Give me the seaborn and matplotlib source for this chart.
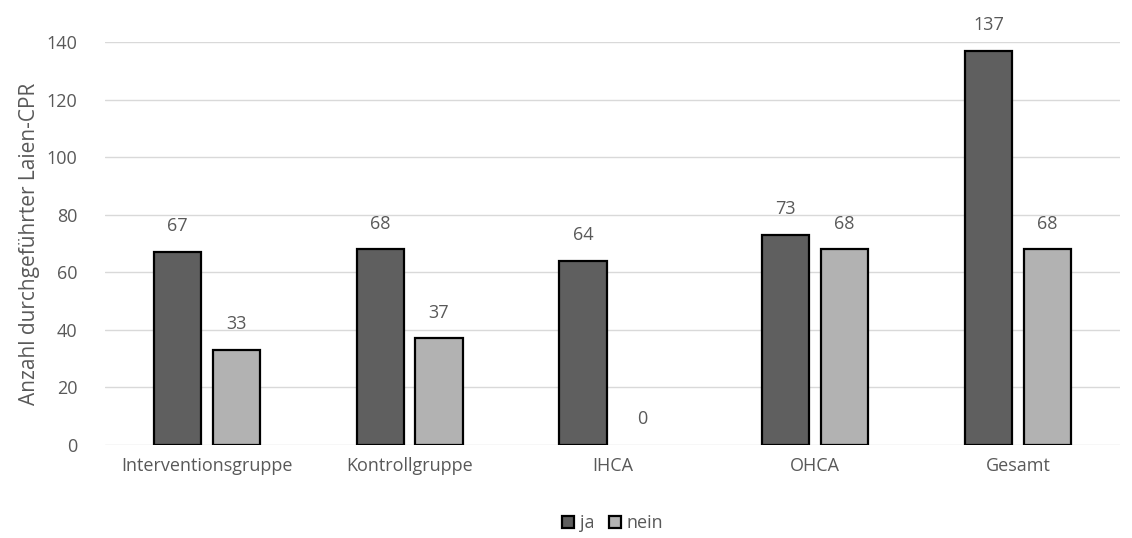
import matplotlib
matplotlib.use("Agg")
import matplotlib.pyplot as plt
import pandas as pd
import seaborn as sns

categories = ["Interventionsgruppe", "Kontrollgruppe", "IHCA", "OHCA", "Gesamt"]
ja_values = [67, 68, 64, 73, 137]
nein_values = [33, 37, 0, 68, 68]
series_names = ["ja", "nein"]
colors = ["#5f5f5f", "#b2b2b2"]

df = pd.DataFrame({
    "Gruppe": categories * 2,
    "Anzahl": ja_values + nein_values,
    "Serie": [series_names[0]] * len(categories) + [series_names[1]] * len(categories),
})

sns.set_theme(style="white")
plt.rcParams["font.family"] = ["Open Sans", "DejaVu Sans"]
text_color = "#595959"

fig = plt.figure(figsize=(11.32, 5.38), dpi=100)
ax = fig.add_axes([0.093, 0.173, 0.896, 0.749])

sns.barplot(data=df, x="Gruppe", y="Anzahl", hue="Serie", palette=colors,
            width=0.58, gap=0.2, edgecolor="black", linewidth=1.6,
            ax=ax, legend=True)

# no outline for the empty bar (IHCA / nein)
for container in ax.containers:
    for bar in container:
        if bar.get_height() == 0:
            bar.set_linewidth(0)
    ax.bar_label(container, padding=12, fontsize=13, color=text_color, clip_on=False)

ax.set_ylim(0, 140)
ax.set_yticks(range(0, 141, 20))
ax.yaxis.grid(True, color="#d9d9d9", linewidth=1)
ax.set_axisbelow(True)
for s in ax.spines.values():
    s.set_visible(False)
ax.tick_params(axis="both", length=0, labelsize=13, colors=text_color, pad=9)
ax.tick_params(axis="y", pad=20)
ax.set_xlabel("")
ax.set_ylabel("Anzahl durchgeführter Laien-CPR", fontsize=15, color=text_color, labelpad=5)

handles, labels = ax.get_legend_handles_labels()
ax.legend(handles, labels, loc="lower center", bbox_to_anchor=(0.5, -0.235), ncol=2,
          frameon=False, fontsize=13, handlelength=0.7, handleheight=0.7,
          handletextpad=0.3, columnspacing=0.8, labelcolor=text_color,
          borderaxespad=0)

fig.savefig("out.png", dpi=100)
